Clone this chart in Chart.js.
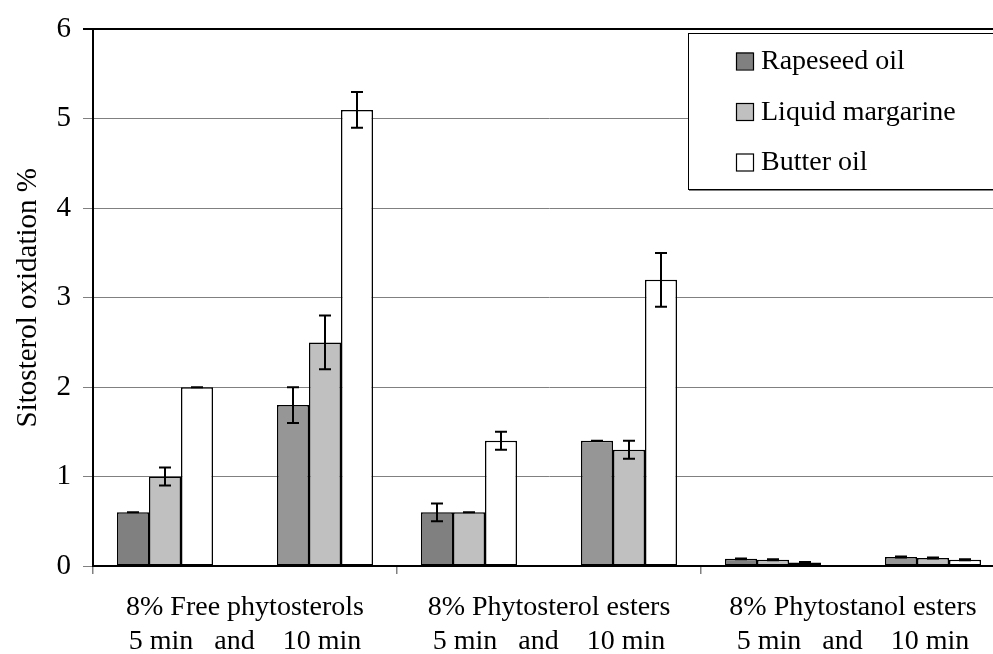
<!DOCTYPE html>
<html>
<head>
<meta charset="utf-8">
<script src="https://cdn.jsdelivr.net/npm/chart.js@4"></script>
<style>
html, body { margin: 0; padding: 0; overflow: hidden; background: #fff; }
#wrap { width: 1010px; height: 654px; position: relative; }
</style>
</head>
<body>
<div id="wrap"><canvas id="c"></canvas></div>
<script>
// ---- data ----
const categories = [
  ['8% Free phytosterols', '5 min   and    10 min'],
  ['8% Phytosterol esters', '5 min   and    10 min'],
  ['8% Phytostanol esters', '5 min   and    10 min']
];
const seriesNames = ['Rapeseed oil', 'Liquid margarine', 'Butter oil'];
const rapeseed5   = [0.6, 0.6, 0.08];
const margarine5  = [1.0, 0.6, 0.07];
const butter5     = [2.0, 1.4, 0.04];
const rapeseed10  = [1.8, 1.4, 0.10];
const margarine10 = [2.5, 1.3, 0.09];
const butter10    = [5.1, 3.2, 0.07];
const rapeseed5Err   = [0, 0.1, 0.005];
const margarine5Err  = [0.1, 0, 0.005];
const butter5Err     = [0, 0.1, 0.005];
const rapeseed10Err  = [0.2, 0, 0.005];
const margarine10Err = [0.3, 0.1, 0.005];
const butter10Err    = [0.2, 0.3, 0.005];
const yTicks = [0, 1, 2, 3, 4, 5, 6];
const yTitle = 'Sitosterol oxidation %';

const FONT = "'Liberation Serif', 'Times New Roman', serif";
const C_RAPE = '#808080', C_RAPE10 = '#969696', C_MARG = '#c0c0c0', C_BUT = '#ffffff';

function ds(label, data, color, err, legend) {
  return { label, data, backgroundColor: color, borderColor: '#000', borderWidth: 1.5,
           errors: err, legendItem: legend, borderSkipped: false };
}
const spacer = () => ({ label: '', data: categories.map(() => null), backgroundColor: 'rgba(0,0,0,0)', borderWidth: 0 });

const errorBars = {
  id: 'errorBars',
  afterDatasetsDraw(chart) {
    const ctx = chart.ctx, y = chart.scales.y;
    ctx.save();
    ctx.strokeStyle = '#000';
    ctx.lineWidth = 2;
    chart.data.datasets.forEach((d, di) => {
      if (!d.errors) return;
      const meta = chart.getDatasetMeta(di);
      meta.data.forEach((bar, i) => {
        const v = d.data[i], e = d.errors[i];
        if (v == null || e == null) return;
        const x = bar.x;
        const yt = y.getPixelForValue(v + e), yb = y.getPixelForValue(v - e);
        ctx.beginPath();
        ctx.moveTo(x, yt); ctx.lineTo(x, yb);
        ctx.moveTo(x - 6, yt); ctx.lineTo(x + 6, yt);
        ctx.moveTo(x - 6, yb); ctx.lineTo(x + 6, yb);
        ctx.stroke();
      });
    });
    ctx.restore();
  }
};

const boxLegend = {
  id: 'boxLegend',
  afterDraw(chart) {
    const ctx = chart.ctx;
    const items = chart.data.datasets.filter(d => d.legendItem);
    ctx.save();
    ctx.fillStyle = '#fff';
    ctx.fillRect(688, 33, 330, 156);
    ctx.strokeStyle = '#000';
    ctx.lineWidth = 1;
    ctx.strokeRect(688.5, 33.5, 330, 156);
    ctx.strokeStyle = '#808080';
    ctx.beginPath(); ctx.moveTo(689, 190.5); ctx.lineTo(1010, 190.5); ctx.stroke();
    ctx.font = '28px ' + FONT;
    ctx.textBaseline = 'middle';
    ctx.textAlign = 'left';
    items.forEach((d, i) => {
      const cy = 61 + i * 50.5;
      ctx.fillStyle = d.backgroundColor;
      ctx.fillRect(736, cy - 8.5, 17, 17);
      ctx.strokeStyle = '#000';
      ctx.lineWidth = 1.2;
      ctx.strokeRect(736.5, cy - 8, 17, 17);
      ctx.fillStyle = '#000';
      ctx.fillText(d.label, 761, cy + 1);
    });
    ctx.restore();
  }
};

new Chart(document.getElementById('c'), {
  type: 'bar',
  data: {
    labels: categories,
    datasets: [
      ds(seriesNames[0], rapeseed5, C_RAPE, rapeseed5Err, true),
      ds(seriesNames[1], margarine5, C_MARG, margarine5Err, true),
      ds(seriesNames[2], butter5, C_BUT, butter5Err, true),
      spacer(), spacer(),
      ds(seriesNames[0], rapeseed10, C_RAPE10, rapeseed10Err, false),
      ds(seriesNames[1], margarine10, C_MARG, margarine10Err, false),
      ds(seriesNames[2], butter10, C_BUT, butter10Err, false)
    ]
  },
  options: {
    responsive: true,
    maintainAspectRatio: false,
    animation: false,
    datasets: { bar: { categoryPercentage: 256 / 304, barPercentage: 1 } },
    layout: { padding: { left: 0, right: 5, top: 25, bottom: 0 } },
    plugins: { legend: { display: false }, tooltip: { enabled: false } },
    scales: {
      x: {
        grid: { offset: true, drawOnChartArea: false, drawTicks: true, tickLength: 8, color: '#808080', lineWidth: 1.5 },
        border: { color: '#000', width: 2 },
        ticks: { font: { family: FONT, size: 28, lineHeight: 1.2 }, color: '#000', padding: 17, maxRotation: 0, autoSkip: false },
        afterFit(s) { s.height = 88; }
      },
      y: {
        min: 0, max: 6,
        afterBuildTicks(s) { s.ticks = yTicks.map(v => ({ value: v })); },
        grid: {
          color: c => (c.tick && c.tick.value === 6) ? '#000' : '#808080',
          lineWidth: c => (c.tick && c.tick.value === 6) ? 2 : 1,
          tickLength: 10
        },
        border: { color: '#000', width: 2 },
        ticks: { font: { family: FONT, size: 29 }, color: '#000', padding: 12 },
        title: { display: true, text: yTitle, font: { family: FONT, size: 29 }, color: '#000', padding: { top: 11, bottom: 0 } },
        afterFit(s) { s.width = 93; }
      }
    }
  },
  plugins: [errorBars, boxLegend]
});
</script>
</body>
</html>
